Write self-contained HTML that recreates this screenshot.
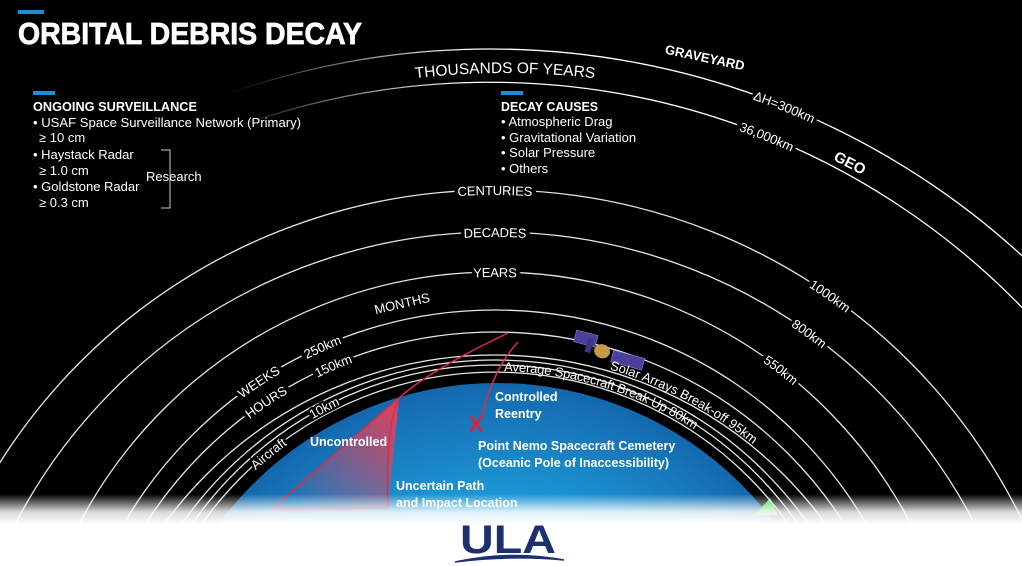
<!DOCTYPE html>
<html><head><meta charset="utf-8"><style>
html,body{margin:0;padding:0;background:#000;width:1022px;height:566px;overflow:hidden;}
svg{display:block;font-family:"Liberation Sans",sans-serif;}
</style></head><body>
<svg width="1022" height="566" viewBox="0 0 1022 566" xmlns="http://www.w3.org/2000/svg">
<defs>
<radialGradient id="earth" cx="497" cy="728" r="345" gradientUnits="userSpaceOnUse">
<stop offset="0" stop-color="#2bc0f0"/><stop offset="0.6" stop-color="#1ea0dd"/><stop offset="1" stop-color="#1468ad"/>
</radialGradient>
<linearGradient id="fade" x1="230" y1="0" x2="470" y2="0" gradientUnits="userSpaceOnUse">
<stop offset="0" stop-color="#fff" stop-opacity="0"/><stop offset="1" stop-color="#fff" stop-opacity="1"/>
</linearGradient>
<linearGradient id="bot" x1="0" y1="494" x2="0" y2="524" gradientUnits="userSpaceOnUse">
<stop offset="0" stop-color="#fff" stop-opacity="0"/><stop offset="0.6" stop-color="#fff" stop-opacity="0.85"/><stop offset="1" stop-color="#fff" stop-opacity="1"/>
</linearGradient>
<linearGradient id="red" x1="380" y1="400" x2="290" y2="500" gradientUnits="userSpaceOnUse">
<stop offset="0" stop-color="#e8415a" stop-opacity="0.9"/><stop offset="1" stop-color="#e8415a" stop-opacity="0"/>
</linearGradient>
<path id="a1" d="M -298 837 A 788 788 0 0 1 1278 837"/>
<path id="a2" d="M -251 823 A 741 741 0 0 1 1231 823"/>
<path id="a3" d="M -91 776 A 586 586 0 0 1 1081 776"/>
<path id="a4" d="M -45 772 A 540 540 0 0 1 1035 772"/>
<path id="a5" d="M 26 741 A 469 469 0 0 1 964 741"/>
<path id="a6" d="M 66 739 A 429 429 0 0 1 924 739"/>
<path id="a7" d="M 81 746 A 414 414 0 0 1 909 746"/>
<path id="a8" d="M 87 763 A 408 408 0 0 1 903 763"/>
<path id="a9" d="M 114 741 A 381 381 0 0 1 876 741"/>
<path id="a10" d="M 127 733 A 368 368 0 0 1 863 733"/>
<path id="a11" d="M 136 731 A 359 359 0 0 1 854 731"/>
<path id="tk" d="M -255 833 A 760 760 0 0 1 1265 833"/>
</defs>
<rect width="1022" height="566" fill="#000"/>

<circle cx="497" cy="728" r="345" fill="url(#earth)"/>
<path d="M755 515 L770 498 L778 515 Z" fill="#3ecf4a"/>

<g fill="none" stroke="#e6e6e6" stroke-width="1.3">
<use href="#a1" stroke="url(#fade)"/>
<use href="#a2" stroke="url(#fade)"/>
<use href="#a3"/><use href="#a4"/><use href="#a5"/><use href="#a6"/><use href="#a7"/>
<use href="#a8"/><use href="#a9"/><use href="#a10"/><use href="#a11"/>
</g>

<path d="M399 398 L273 508 L388 508 Z" fill="url(#red)"/>
<g fill="none" stroke="#e02a4a" stroke-width="1.5">
<path d="M508 333 Q430 370 399 398 Q385 430 388 508"/>
<path d="M399 398 L273 508 L388 508"/>
<path d="M518 342 Q492 370 481 420"/>
</g>
<text x="476" y="432" fill="#e0203c" font-size="22" font-weight="bold" text-anchor="middle">X</text>

<g transform="translate(605,352) rotate(15)">
<rect x="-33" y="-14" width="22" height="12" fill="#4a3f9a" stroke="#8d84d0" stroke-width="0.6"/>
<rect x="8" y="-4" width="32" height="12" fill="#4a3f9a" stroke="#8d84d0" stroke-width="0.6"/>
<ellipse cx="-3" cy="0" rx="8" ry="7" fill="#c79a45"/>
<rect x="-20" y="-9" width="6" height="14" fill="#3a3485"/>
</g>

<!-- label gaps (black) -->
<g fill="#000" stroke="#000" stroke-width="7" font-size="13" dominant-baseline="central" text-anchor="middle">
<text><textPath href="#a3" startOffset="50%">CENTURIES</textPath></text>
<text><textPath href="#a4" startOffset="50%">DECADES</textPath></text>
<text><textPath href="#a5" startOffset="50%">YEARS</textPath></text>
<text><textPath href="#a3" startOffset="69.4%">1000km</textPath></text>
<text><textPath href="#a4" startOffset="69.8%">800km</textPath></text>
<text><textPath href="#a5" startOffset="70.9%">550km</textPath></text>
<text><textPath href="#a6" startOffset="36.8%">250km</textPath></text>
<text><textPath href="#a6" startOffset="31.4%">WEEKS</textPath></text>
<text><textPath href="#a7" startOffset="37.2%">150km</textPath></text>
<text><textPath href="#a7" startOffset="31.3%">HOURS</textPath></text>
<text stroke-width="4"><textPath href="#a10" startOffset="34.6%">10km</textPath></text>
<text stroke-width="4"><textPath href="#a11" startOffset="28.2%">Aircraft</textPath></text>
<text><textPath href="#a2" startOffset="62.2%">36,000km</textPath></text>
<text><textPath href="#a1" startOffset="62.2%">ΔH=300km</textPath></text>
</g>
<g fill="#fff" font-size="13" dominant-baseline="central" text-anchor="middle">
<text><textPath href="#a3" startOffset="50%">CENTURIES</textPath></text>
<text><textPath href="#a4" startOffset="50%">DECADES</textPath></text>
<text><textPath href="#a5" startOffset="50%">YEARS</textPath></text>
<text><textPath href="#a3" startOffset="69.4%">1000km</textPath></text>
<text><textPath href="#a4" startOffset="69.8%">800km</textPath></text>
<text><textPath href="#a5" startOffset="70.9%">550km</textPath></text>
<text><textPath href="#a6" startOffset="36.8%">250km</textPath></text>
<text><textPath href="#a6" startOffset="31.4%">WEEKS</textPath></text>
<text><textPath href="#a7" startOffset="37.2%">150km</textPath></text>
<text><textPath href="#a7" startOffset="31.3%">HOURS</textPath></text>
<text><textPath href="#a10" startOffset="34.6%">10km</textPath></text>
<text><textPath href="#a11" startOffset="28.2%">Aircraft</textPath></text>
<text><textPath href="#a2" startOffset="62.2%">36,000km</textPath></text>
<text><textPath href="#a1" startOffset="62.2%">ΔH=300km</textPath></text>
</g>
<g fill="#fff" font-size="13">
<text dy="-2"><textPath href="#a8" startOffset="59%">Solar Arrays Break-off  95km</textPath></text>
<text dy="11"><textPath href="#a9" startOffset="50.8%">Average Spacecraft Break Up 80km</textPath></text>
</g>
<text fill="#fff" font-size="15.5" text-anchor="middle"><textPath href="#tk" startOffset="50%">THOUSANDS OF YEARS</textPath></text>
<text x="402" y="308" fill="#fff" font-size="13" text-anchor="middle" transform="rotate(-13 402 303)">MONTHS</text>
<text x="705" y="62" fill="#fff" font-size="13" font-weight="bold" text-anchor="middle" transform="rotate(12 705 57)">GRAVEYARD</text>
<text x="850" y="168" fill="#fff" font-size="15" font-weight="bold" text-anchor="middle" transform="rotate(27 850 163)">GEO</text>

<g fill="#fff" font-size="12.5" font-weight="bold">
<text x="310" y="446">Uncontrolled</text>
<text x="495" y="401">Controlled</text>
<text x="495" y="418">Reentry</text>
<text x="478" y="450">Point Nemo Spacecraft Cemetery</text>
<text x="478" y="467">(Oceanic Pole of Inaccessibility)</text>
<text x="396" y="490">Uncertain Path</text>
<text x="396" y="507">and Impact Location</text>
</g>

<rect x="0" y="494" width="1022" height="72" fill="url(#bot)"/>
<rect x="0" y="524" width="1022" height="42" fill="#fff"/>

<text x="508" y="553" fill="#1c2f6e" font-size="40" font-weight="bold" text-anchor="middle" textLength="96" lengthAdjust="spacingAndGlyphs">ULA</text>
<path d="M455 562 Q510 550 564 560 Q510 555 455 562 Z" fill="#1c2f6e" stroke="#1c2f6e" stroke-width="1.5"/>

<rect x="18" y="10" width="26" height="4" fill="#1a8fd6"/>
<text x="18" y="44" fill="#fff" font-size="31" font-weight="bold" stroke="#fff" stroke-width="0.8" textLength="344" lengthAdjust="spacingAndGlyphs">ORBITAL DEBRIS DECAY</text>

<rect x="33" y="91" width="22" height="4" fill="#1a8fd6"/>
<g fill="#fff" font-size="13">
<text x="33" y="111" font-weight="bold" textLength="164" lengthAdjust="spacingAndGlyphs">ONGOING SURVEILLANCE</text>
<text x="33" y="127" textLength="268" lengthAdjust="spacingAndGlyphs">• USAF Space Surveillance Network (Primary)</text>
<text x="39" y="142">≥ 10 cm</text>
<text x="33" y="159">• Haystack Radar</text>
<text x="39" y="175">≥ 1.0 cm</text>
<text x="33" y="191">• Goldstone Radar</text>
<text x="39" y="207">≥ 0.3 cm</text>
<text x="146" y="181">Research</text>
</g>
<path d="M161 150 H170 V208 H161" fill="none" stroke="#ccc" stroke-width="1"/>

<rect x="501" y="91" width="22" height="4" fill="#1a8fd6"/>
<g fill="#fff" font-size="13">
<text x="501" y="111" font-weight="bold" textLength="97" lengthAdjust="spacingAndGlyphs">DECAY CAUSES</text>
<text x="501" y="126">• Atmospheric Drag</text>
<text x="501" y="142">• Gravitational Variation</text>
<text x="501" y="157">• Solar Pressure</text>
<text x="501" y="173">• Others</text>
</g>
</svg>
</body></html>
